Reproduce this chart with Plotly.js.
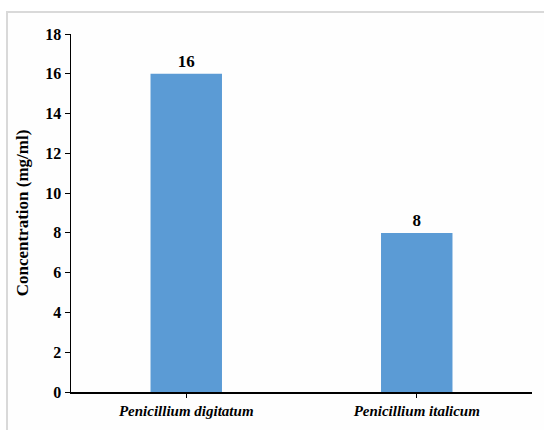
<!DOCTYPE html>
<html>
<head>
<meta charset="utf-8">
<script src="https://cdn.plot.ly/plotly-3.0.1.min.js"></script>
<style>
html,body{margin:0;padding:0;background:#ffffff;width:544px;height:430px;overflow:hidden;}
#frame{position:absolute;left:6px;top:11px;width:540px;height:421px;border-left:2px solid #d9d9d9;border-top:2px solid #d9d9d9;background:#fefefe;}
#chart{position:absolute;left:0;top:0;width:544px;height:430px;}
</style>
</head>
<body>
<div id="frame"></div>
<div id="chart"></div>
<script>
const categories = ["Penicillium digitatum", "Penicillium italicum"];
const concentration = [16, 8];
const valueLabels = ["16", "8"];
const yTicks = [0, 2, 4, 6, 8, 10, 12, 14, 16, 18];

const serif = "'Liberation Serif', 'Times New Roman', serif";

const trace = {
  type: "bar",
  x: categories,
  y: concentration,
  text: valueLabels,
  textposition: "outside",
  cliponaxis: false,
  textfont: {family: serif, size: 17, color: "#000000", weight: "bold"},
  marker: {color: "#5B9BD5"},
  hoverinfo: "none"
};

const layout = {
  width: 544,
  height: 430,
  margin: {l: 71, r: 12, t: 34, b: 38},
  paper_bgcolor: "rgba(0,0,0,0)",
  plot_bgcolor: "rgba(0,0,0,0)",
  bargap: 0.69,
  showlegend: false,
  xaxis: {
    type: "category",
    range: [-0.5, 1.5],
    showline: true,
    linecolor: "#000000",
    linewidth: 1.5,
    ticks: "outside",
    ticklen: 4,
    tickcolor: "#000000",
    tickfont: {family: serif, size: 15, color: "#000000", weight: "bold", style: "italic"},
    showgrid: false,
    zeroline: false,
    fixedrange: true
  },
  yaxis: {
    range: [0, 18],
    tickvals: yTicks,
    ticktext: yTicks.map(String),
    showline: true,
    linecolor: "#000000",
    linewidth: 1.5,
    ticks: "outside",
    ticklen: 5,
    tickcolor: "#000000",
    tickfont: {family: serif, size: 16, color: "#000000", weight: "bold"},
    showgrid: false,
    zeroline: false,
    title: {text: "Concentration (mg/ml)", font: {family: serif, size: 17, color: "#000000", weight: "bold"}, standoff: 12},
    fixedrange: true
  }
};

Plotly.newPlot("chart", [trace], layout, {displayModeBar: false, staticPlot: true});
</script>
</body>
</html>
